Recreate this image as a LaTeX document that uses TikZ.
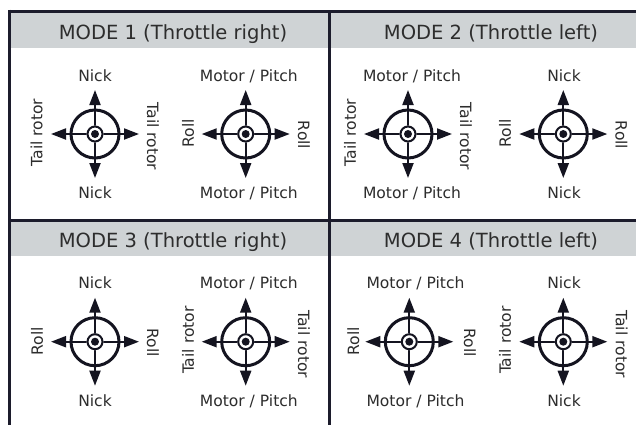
\documentclass[tikz,border=0pt]{standalone}
\usepackage{fontspec}
\setmainfont{DejaVu Sans}
\usetikzlibrary{arrows.meta}
\definecolor{ink}{RGB}{20,20,32}
\definecolor{frame}{RGB}{28,28,44}
\definecolor{band}{RGB}{207,211,213}
\definecolor{txt}{RGB}{45,45,45}
\tikzset{
  lab/.style={font=\fontsize{15.6}{18}\selectfont, text=txt, inner sep=0pt},
  ttl/.style={font=\fontsize{19.6}{23}\selectfont, text=txt, inner sep=0pt, anchor=base},
  frameline/.style={draw=frame, line width=3bp},
  arr/.style={draw=ink, line width=2bp, -{Triangle[length=15bp,width=11bp]}},
  stick/.pic={
    \coordinate (-c) at (0,0);
    \coordinate (-n) at (0,-44);
    \coordinate (-s) at (0,44);
    \coordinate (-w) at (-44,0);
    \coordinate (-e) at (44,0);
    \draw[ink, line width=3bp] (-c) circle[radius=24bp];
    \draw[arr] (-c) -- (-n);
    \draw[arr] (-c) -- (-s);
    \draw[arr] (-c) -- (-w);
    \draw[arr] (-c) -- (-e);
    \fill[white] (-c) circle[radius=8.5bp];
    \draw[ink, line width=2bp] (-c) circle[radius=7.5bp];
    \fill[ink] (-c) circle[radius=4bp];
  }
}
\begin{document}
\begin{tikzpicture}[x=1bp,y=-1bp]
\useasboundingbox (0,0) rectangle (636,425);
\fill[white] (0,0) rectangle (636,425);
% bands
\fill[band] (11,12) rectangle (636,48);
\fill[band] (11,222) rectangle (636,256);
% frame
\coordinate (tl) at (8,11);
\coordinate (tr) at (636,11);
\coordinate (lt) at (9.5,9.5);
\coordinate (lb) at (9.5,425);
\coordinate (mt) at (329,11);
\coordinate (mb) at (329,425);
\coordinate (hl) at (8,220.5);
\coordinate (hr) at (636,220.5);
\draw[frameline] (tl) -- (tr);
\draw[frameline] (lt) -- (lb);
\draw[frameline] (mt) -- (mb);
\draw[frameline] (hl) -- (hr);
% titles
\node[ttl] (t1) at (173,39.5) {MODE 1 (Throttle right)};
\node[ttl] (t2) at (491,39.5) {MODE 2 (Throttle left)};
\node[ttl] (t3) at (173,247) {MODE 3 (Throttle right)};
\node[ttl] (t4) at (491,247) {MODE 4 (Throttle left)};
% panel 1
\pic (s1) at (95,134) {stick};
\node[lab, anchor=base] (s1n) at (95,81.7) {Nick};
\node[lab, anchor=base] (s1s) at (95,198) {Nick};
\node[lab, rotate=90] (s1w) at (36.5,132.5) {Tail rotor};
\node[lab, rotate=-90] (s1e) at (153,136.5) {Tail rotor};
\pic (s2) at (245.7,134) {stick};
\node[lab, anchor=base] (s2n) at (248.8,81.7) {Motor / Pitch};
\node[lab, anchor=base] (s2s) at (248.8,198) {Motor / Pitch};
\node[lab, rotate=90] (s2w) at (188,133.3) {Roll};
\node[lab, rotate=-90] (s2e) at (303.8,135) {Roll};
% panel 2
\pic (s3) at (408,134) {stick};
\node[lab, anchor=base] (s3n) at (412,81.7) {Motor / Pitch};
\node[lab, anchor=base] (s3s) at (412,198) {Motor / Pitch};
\node[lab, rotate=90] (s3w) at (350,132.5) {Tail rotor};
\node[lab, rotate=-90] (s3e) at (466,136.5) {Tail rotor};
\pic (s4) at (563.3,134) {stick};
\node[lab, anchor=base] (s4n) at (564,81.7) {Nick};
\node[lab, anchor=base] (s4s) at (564,198) {Nick};
\node[lab, rotate=90] (s4w) at (505,133.3) {Roll};
\node[lab, rotate=-90] (s4e) at (621.5,135) {Roll};
% panel 3
\pic (s5) at (95,341.7) {stick};
\node[lab, anchor=base] (s5n) at (95,288.3) {Nick};
\node[lab, anchor=base] (s5s) at (95,406) {Nick};
\node[lab, rotate=90] (s5w) at (37,341) {Roll};
\node[lab, rotate=-90] (s5e) at (153,342.7) {Roll};
\pic (s6) at (245.7,341.7) {stick};
\node[lab, anchor=base] (s6n) at (248.8,288.3) {Motor / Pitch};
\node[lab, anchor=base] (s6s) at (248.8,406) {Motor / Pitch};
\node[lab, rotate=90] (s6w) at (188,340.2) {Tail rotor};
\node[lab, rotate=-90] (s6e) at (304,344.2) {Tail rotor};
% panel 4
\pic (s7) at (409.3,341.7) {stick};
\node[lab, anchor=base] (s7n) at (415.5,288.3) {Motor / Pitch};
\node[lab, anchor=base] (s7s) at (415.5,406) {Motor / Pitch};
\node[lab, rotate=90] (s7w) at (353.3,341) {Roll};
\node[lab, rotate=-90] (s7e) at (470,342.7) {Roll};
\pic (s8) at (563.3,341.7) {stick};
\node[lab, anchor=base] (s8n) at (564,288.3) {Nick};
\node[lab, anchor=base] (s8s) at (564,406) {Nick};
\node[lab, rotate=90] (s8w) at (505,340.2) {Tail rotor};
\node[lab, rotate=-90] (s8e) at (621.7,344.2) {Tail rotor};
\end{tikzpicture}
\end{document}
